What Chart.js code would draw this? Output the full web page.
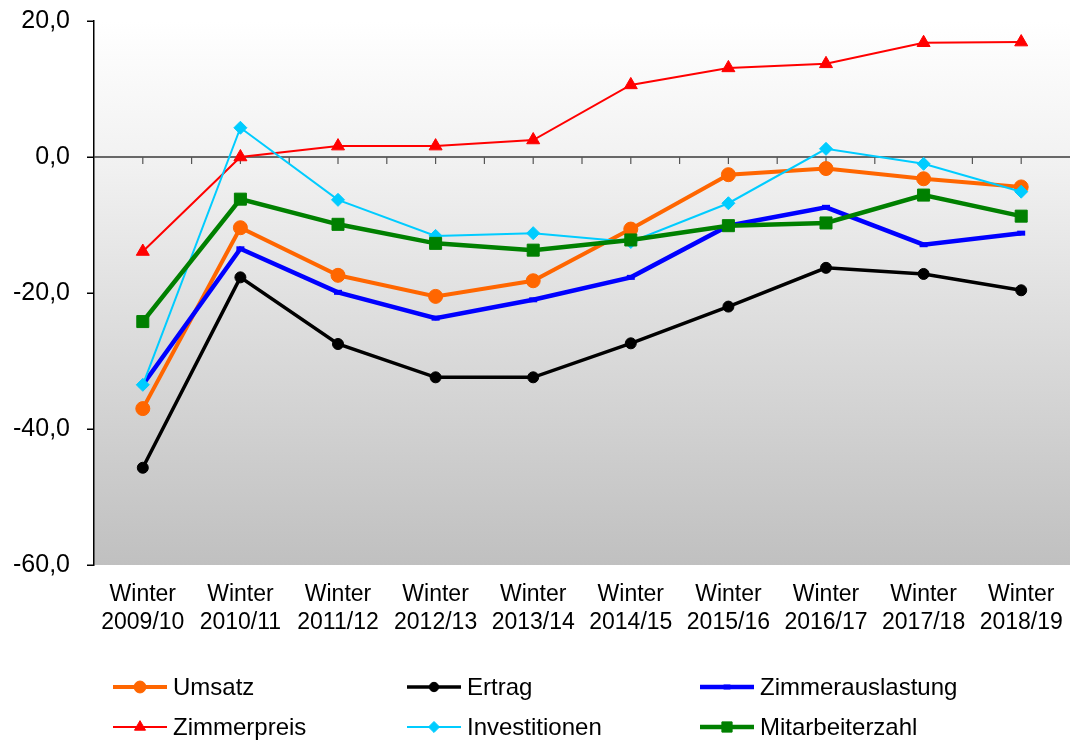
<!DOCTYPE html>
<html>
<head>
<meta charset="utf-8">
<title>Winter-Entwicklung</title>
<script src="https://cdn.jsdelivr.net/npm/chart.js@4/dist/chart.umd.min.js"></script>
<style>
  html, body { margin: 0; padding: 0; background: #ffffff; }
  #wrap { width: 1070px; height: 740px; position: relative; }
</style>
</head>
<body>
<div id="wrap"><canvas id="chart" width="1070" height="740"></canvas></div>
<script>
// Seasons on the category axis
const categories = [
  ['Winter', '2009/10'], ['Winter', '2010/11'], ['Winter', '2011/12'], ['Winter', '2012/13'],
  ['Winter', '2013/14'], ['Winter', '2014/15'], ['Winter', '2015/16'], ['Winter', '2016/17'],
  ['Winter', '2017/18'], ['Winter', '2018/19']
];

// Series values (saldo in percentage points)
const umsatz           = [-37.0, -10.4, -17.4, -20.5, -18.2, -10.6,  -2.6,  -1.7,  -3.2,  -4.4];
const ertrag           = [-45.7, -17.7, -27.5, -32.4, -32.4, -27.4, -22.0, -16.3, -17.2, -19.6];
const zimmerauslastung = [-33.5, -13.5, -19.9, -23.7, -21.0, -17.7, -10.1,  -7.4, -12.9, -11.2];
const zimmerpreis      = [-13.9,   0.0,   1.6,   1.6,   2.5,  10.6,  13.1,  13.7,  16.8,  16.9];
const investitionen    = [-33.5,   4.3,  -6.3, -11.6, -11.2, -12.5,  -6.8,   1.2,  -1.0,  -5.1];
const mitarbeiterzahl  = [-24.2,  -6.2,  -9.9, -12.7, -13.7, -12.2, -10.1,  -9.7,  -5.6,  -8.7];

// Value axis
const yMin = -60;
const yMax = 20;
const yStep = 20;

const FONT = 'Liberation Sans, Arial, Helvetica, sans-serif';

const seriesDefs = [
  { label: 'Umsatz',           data: umsatz,           color: '#FF6600', width: 4,   style: 'circle',   radius: 7 },
  { label: 'Ertrag',           data: ertrag,           color: '#000000', width: 3.5, style: 'circle',   radius: 5.5 },
  { label: 'Zimmerauslastung', data: zimmerauslastung, color: '#0000FF', width: 4.5, style: 'line',     radius: 4 },
  { label: 'Zimmerpreis',      data: zimmerpreis,      color: '#FF0000', width: 2,   style: 'triangle', radius: 7.5 },
  { label: 'Investitionen',    data: investitionen,    color: '#00CCFF', width: 2,   style: 'rectRot',  radius: 6.5 },
  { label: 'Mitarbeiterzahl',  data: mitarbeiterzahl,  color: '#008000', width: 4.5, style: 'rect',     radius: 8.5 }
];

const datasets = seriesDefs.map((s, i) => ({
  label: s.label,
  data: s.data,
  borderColor: s.color,
  backgroundColor: s.color,
  borderWidth: s.width,
  pointStyle: s.style,
  pointRadius: s.radius,
  pointHoverRadius: s.radius,
  pointBackgroundColor: s.color,
  pointBorderColor: s.color,
  pointBorderWidth: s.style === 'line' ? 5 : 1,
  tension: 0,
  fill: false,
  clip: false,
  order: seriesDefs.length - i   // later series are painted on top
}));

// Grey-to-white gradient behind the plot area
const plotBackground = {
  id: 'plotBackground',
  beforeDraw(chart) {
    const { ctx, chartArea: a } = chart;
    ctx.save();
    ctx.fillStyle = '#ffffff';
    ctx.fillRect(0, 0, chart.width, chart.height);
    const g = ctx.createLinearGradient(0, a.top, 0, a.bottom);
    g.addColorStop(0, '#ffffff');
    g.addColorStop(0.25, '#f2f2f2');
    g.addColorStop(0.5, '#e1e1e1');
    g.addColorStop(1, '#c0c0c0');
    ctx.fillStyle = g;
    ctx.fillRect(a.left, a.top, a.right - a.left, a.bottom - a.top);
    ctx.restore();
  }
};

// Axis furniture: value-axis tick marks, and the category axis line through zero
const axisLines = {
  id: 'axisLines',
  beforeDatasetsDraw(chart) {
    const { ctx, chartArea: a, scales: { x, y } } = chart;
    ctx.save();
    // short outward ticks on the value axis
    ctx.strokeStyle = '#000000';
    ctx.lineWidth = 1.5;
    ctx.beginPath();
    y.ticks.forEach(t => {
      const py = Math.round(y.getPixelForValue(t.value)) + 0.25;
      ctx.moveTo(a.left - 7, py);
      ctx.lineTo(a.left, py);
    });
    ctx.stroke();

    const y0 = y.getPixelForValue(0);
    const half = (x.getPixelForValue(1) - x.getPixelForValue(0)) / 2;
    ctx.strokeStyle = '#3a3a3a';
    ctx.lineWidth = 1.5;
    ctx.beginPath();
    ctx.moveTo(a.left, y0);
    ctx.lineTo(a.right, y0);
    ctx.stroke();
    ctx.strokeStyle = '#555555';
    ctx.lineWidth = 1.2;
    ctx.beginPath();
    for (let i = 0; i < categories.length; i++) {
      const cx = x.getPixelForValue(i);
      ctx.moveTo(cx, y0);
      ctx.lineTo(cx, y0 + 7);
      if (i < categories.length - 1) {
        ctx.moveTo(cx + half, y0);
        ctx.lineTo(cx + half, y0 + 7);
      }
    }
    ctx.stroke();
    ctx.restore();
  }
};

// Three-column legend below the axis labels
const gridLegend = {
  id: 'gridLegend',
  afterDraw(chart) {
    const { ctx } = chart;
    const cols = [113, 407, 700];
    const rows = [687, 727];
    const lineLen = 54;
    ctx.save();
    chart.data.datasets.forEach((ds, i) => {
      const x0 = cols[i % 3];
      const yy = rows[Math.floor(i / 3)];
      ctx.strokeStyle = ds.borderColor;
      ctx.lineWidth = ds.borderWidth;
      ctx.beginPath();
      ctx.moveTo(x0, yy);
      ctx.lineTo(x0 + lineLen, yy);
      ctx.stroke();
      ctx.fillStyle = ds.pointBackgroundColor;
      ctx.strokeStyle = ds.pointBorderColor;
      ctx.lineWidth = ds.pointBorderWidth;
      Chart.helpers.drawPoint(ctx, {
        pointStyle: ds.pointStyle,
        radius: ds.pointRadius * 0.85,
        rotation: 0,
        borderWidth: ds.pointBorderWidth
      }, x0 + lineLen / 2, yy);
      ctx.fillStyle = '#000000';
      ctx.font = '24px ' + FONT;
      ctx.textAlign = 'left';
      ctx.textBaseline = 'middle';
      ctx.fillText(ds.label, x0 + lineLen + 6, yy + 1);
    });
    ctx.restore();
  }
};

new Chart(document.getElementById('chart'), {
  type: 'line',
  data: { labels: categories, datasets },
  options: {
    responsive: false,
    animation: false,
    devicePixelRatio: 1,
    layout: { autoPadding: false, padding: { top: 21, right: 0, bottom: 0, left: 0 } },
    plugins: {
      legend: { display: false },
      tooltip: { enabled: false },
      title: { display: false }
    },
    scales: {
      x: {
        type: 'category',
        offset: true,
        grid: { display: false, drawTicks: true, tickLength: 16 },
        border: { display: false },
        ticks: {
          color: '#000000',
          font: { family: FONT, size: 23, lineHeight: 1.22 },
          padding: 0,
          maxRotation: 0,
          autoSkip: false
        },
        afterFit(scale) {
          scale.height = 175;
          scale.paddingLeft = 0;
          scale.paddingRight = 0;
        }
      },
      y: {
        min: yMin,
        max: yMax,
        border: { display: true, color: '#000000', width: 1.5 },
        grid: { display: true, drawOnChartArea: false, drawTicks: true, tickLength: 18, color: 'rgba(0,0,0,0)' },
        ticks: {
          stepSize: yStep,
          color: '#000000',
          font: { family: FONT, size: 25, lineHeight: 1.1 },
          padding: 6,
          callback: v => v.toFixed(1).replace('.', ',')
        },
        afterFit(scale) { scale.width = 94; }
      }
    }
  },
  plugins: [plotBackground, axisLines, gridLegend]
});
</script>
</body>
</html>
